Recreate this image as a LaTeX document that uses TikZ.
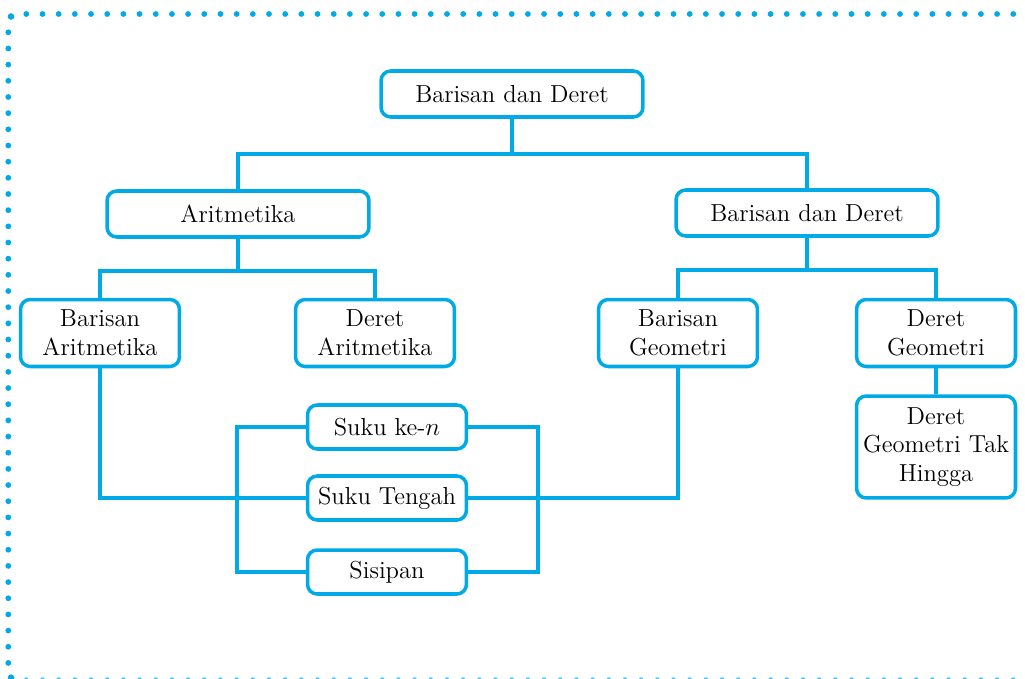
\documentclass[tikz,border=0pt]{standalone}
\usepackage{amsmath}
\usepackage{amssymb}
\usepackage{color}
\definecolor{biru}{RGB}{0,170,230}

\begin{document}
\begin{tikzpicture}[x=.02cm,y=-.02cm, line width=2pt,
  kotak/.style={draw=biru, fill=white, rounded corners=5.5pt, align=center,
    inner sep=2pt, font=\fontsize{14}{16.3}\selectfont},
  besar/.style={kotak, minimum width=5.24cm, minimum height=.92cm},
  kecil/.style={kotak, minimum width=3.18cm, minimum height=1.34cm},
  suku/.style={kotak, minimum width=3.18cm, minimum height=.88cm}]
 \useasboundingbox (0,0) rectangle (1025,679);

 % bingkai titik-titik
 \foreach \i in {0,...,61} \fill[biru] (26.3+\i*16.18,14) circle (.058cm);
 \foreach \i in {0,...,39} \fill[biru] (8.3,32.3+\i*16.17) circle (.058cm);
 \foreach \i in {0,...,61} \fill[biru!70] (26.3+\i*16.18,679.5) circle (.045cm);
 \fill[biru] (11,16.5) circle (.066cm);
 \fill[biru] (11,677.7) circle (.066cm);

 % kotak-kotak
 \node[besar] (root) at (512,94) {Barisan dan Deret};
 \node[besar] (arit) at (238,214) {Aritmetika};
 \node[besar] (geo) at (807,213) {Barisan dan Deret};

 \node[kecil] (barA) at (100,333) {Barisan\\Aritmetika};
 \node[kecil] (derA) at (375,333) {Deret\\Aritmetika};
 \node[kecil] (barG) at (678,333) {Barisan\\Geometri};
 \node[kecil] (derG) at (936,333) {Deret\\Geometri};
 \node[kotak, minimum width=3.18cm, minimum height=2.04cm] (takH) at (936,447) {Deret\\Geometri Tak\\Hingga};

 \node[suku] (sKe) at (387,427) {Suku ke-$n$};
 \node[suku] (sTengah) at (387,498) {Suku Tengah};
 \node[suku] (sisip) at (387,572) {Sisipan};

 % garis penghubung
 \begin{scope}[draw=biru]
 \draw (root.south) -- ++(0,35) -| (arit.north);
 \draw (root.south) -- ++(0,35) -| (geo.north);
 \draw (arit.south) -- ++(0,32) -| (barA.north);
 \draw (arit.south) -- ++(0,32) -| (derA.north);
 \draw (geo.south) -- ++(0,32) -| (barG.north);
 \draw (geo.south) -- ++(0,32) -| (derG.north);
 \draw (derG.south) -- (takH.north);
 \draw (barA.south) |- (sTengah.west);
 \draw (barG.south) |- (sTengah.east);
 \draw (sKe.west) -- ++(-69,0) |- (sisip.west);
 \draw (sKe.east) -- ++(70,0) |- (sisip.east);
 \end{scope}
\end{tikzpicture}
\end{document}
